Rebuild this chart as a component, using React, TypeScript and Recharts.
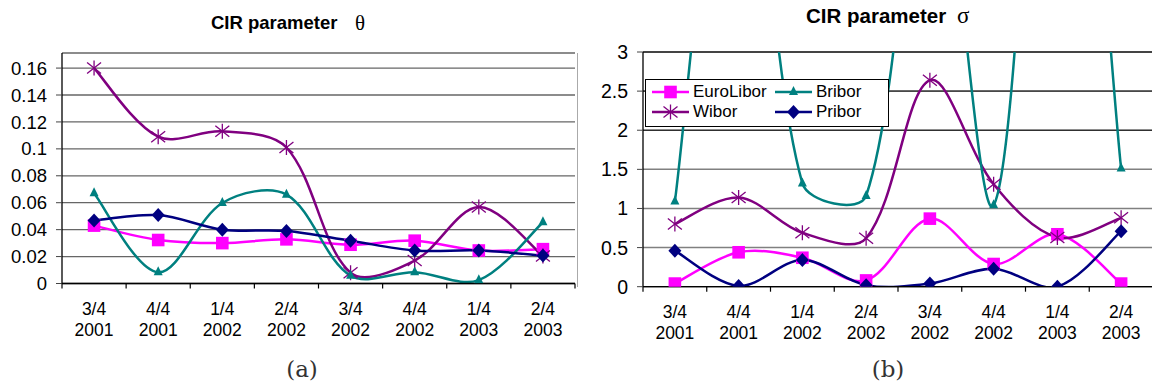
import React from "react";
import { LineChart, Line, XAxis, YAxis, CartesianGrid, ReferenceLine } from "recharts";

// категории по оси X
const quarters = ["3/4", "4/4", "1/4", "2/4", "3/4", "4/4", "1/4", "2/4"];
const years = ["2001", "2001", "2002", "2002", "2002", "2002", "2003", "2003"];

// CIR parameter theta
const thetaEuroLibor = [0.043, 0.0323, 0.03, 0.0328, 0.0288, 0.0318, 0.0245, 0.0255];
const thetaWibor = [0.16, 0.109, 0.113, 0.101, 0.008, 0.017, 0.0568, 0.0205];
const thetaBribor = [0.067, 0.0083, 0.0598, 0.066, 0.0058, 0.0083, 0.0025, 0.0455];
const thetaPribor = [0.0468, 0.0508, 0.04, 0.039, 0.0318, 0.0245, 0.0245, 0.0208];
const thetaTicks = [0, 0.02, 0.04, 0.06, 0.08, 0.1, 0.12, 0.14, 0.16];

// CIR parameter sigma (Bribor уходит за верх графика)
const sigmaEuroLibor = [0.04, 0.44, 0.37, 0.08, 0.87, 0.29, 0.67, 0.04];
const sigmaWibor = [0.8, 1.14, 0.69, 0.62, 2.64, 1.31, 0.63, 0.88];
const sigmaBribor = [1.09, 7, 1.32, 1.16, 6.2, 1.04, 9, 1.51];
const sigmaPribor = [0.46, 0.01, 0.34, 0.02, 0.04, 0.23, 0.0, 0.71];
const sigmaTicks = [0, 0.5, 1, 1.5, 2, 2.5, 3];

const seriesNames = ["EuroLibor", "Wibor", "Bribor", "Pribor"];
const COLORS: Record<string, string> = {
  EuroLibor: "#FF00FF",
  Wibor: "#800080",
  Bribor: "#008080",
  Pribor: "#000080",
};

const buildRows = (e: number[], w: number[], b: number[], p: number[]) =>
  quarters.map((_q, i) => ({
    x: i + 0.5,
    EuroLibor: e[i],
    Wibor: w[i],
    Bribor: b[i],
    Pribor: p[i],
  }));

const thetaData = buildRows(thetaEuroLibor, thetaWibor, thetaBribor, thetaPribor);
const sigmaData = buildRows(sigmaEuroLibor, sigmaWibor, sigmaBribor, sigmaPribor);
const xTicks = Array.from({ length: quarters.length * 2 + 1 }, (_v, k) => k / 2);

const FONT = "'Liberation Sans', Arial, sans-serif";

// сглаживание как в Excel: Безье, плечи зависят от длин соседних отрезков
const excelCurve = (context: any) => {
  let pts: number[][] = [];
  const arm = (dPrev: number, dCur: number) =>
    dPrev === 0 ? 1 / 6 : dCur / (dPrev + dCur) / 3;
  return {
    areaStart() {},
    areaEnd() {},
    lineStart() {
      pts = [];
    },
    point(x: number, y: number) {
      pts.push([+x, +y]);
    },
    lineEnd() {
      const n = pts.length;
      if (!n) return;
      context.moveTo(pts[0][0], pts[0][1]);
      for (let i = 0; i < n - 1; i++) {
        const p0 = pts[Math.max(i - 1, 0)];
        const p1 = pts[i];
        const p2 = pts[i + 1];
        const p3 = pts[Math.min(i + 2, n - 1)];
        const d01 = Math.hypot(p1[0] - p0[0], p1[1] - p0[1]);
        const d12 = Math.hypot(p2[0] - p1[0], p2[1] - p1[1]);
        const d23 = Math.hypot(p3[0] - p2[0], p3[1] - p2[1]);
        const a = arm(d01, d12);
        const b = arm(d23, d12);
        context.bezierCurveTo(
          p1[0] + (p2[0] - p0[0]) * a,
          p1[1] + (p2[1] - p0[1]) * a,
          p2[0] - (p3[0] - p1[0]) * b,
          p2[1] - (p3[1] - p1[1]) * b,
          p2[0],
          p2[1]
        );
      }
    },
  };
};

const Marker = ({ name, cx, cy }: { name: string; cx: number; cy: number }) => {
  const c = COLORS[name];
  if (name === "EuroLibor")
    return <rect x={cx - 6.3} y={cy - 6.3} width={12.6} height={12.6} fill={c} />;
  if (name === "Pribor")
    return (
      <polygon
        points={`${cx},${cy - 7} ${cx + 6.5},${cy} ${cx},${cy + 7} ${cx - 6.5},${cy}`}
        fill={c}
      />
    );
  if (name === "Bribor")
    return (
      <polygon
        points={`${cx},${cy - 6} ${cx + 4.5},${cy + 3} ${cx - 4.5},${cy + 3}`}
        fill={c}
      />
    );
  return (
    <g stroke={c} strokeWidth={1.3}>
      <line x1={cx} y1={cy - 7.5} x2={cx} y2={cy + 7.5} />
      <line x1={cx - 7} y1={cy - 5.5} x2={cx + 7} y2={cy + 5.5} />
      <line x1={cx - 7} y1={cy + 5.5} x2={cx + 7} y2={cy - 5.5} />
    </g>
  );
};

const dotFor = (name: string) => (props: any) => {
  if (props.cx == null || props.cy == null) return <g key={`${name}-${props.index}`} />;
  return (
    <g key={`${name}-${props.index}`}>
      <Marker name={name} cx={props.cx} cy={props.cy} />
    </g>
  );
};

const QuarterTick = (props: any) => {
  const { x, y, payload } = props;
  const v = payload.value;
  if (Number.isInteger(v))
    return <line x1={x} y1={y} x2={x} y2={y + 5} stroke="#000" strokeWidth={1.2} />;
  const i = Math.floor(v);
  return (
    <text x={x} y={y} textAnchor="middle" fontSize={17.5} fontFamily={FONT} fill="#000">
      <tspan x={x} dy={31}>
        {quarters[i]}
      </tspan>
      <tspan x={x} dy={21.5}>
        {years[i]}
      </tspan>
    </text>
  );
};

const renderLines = () =>
  seriesNames.map((name) => (
    <Line
      key={name}
      dataKey={name}
      type={excelCurve as any}
      stroke={COLORS[name]}
      strokeWidth={2.5}
      dot={dotFor(name)}
      activeDot={false}
      isAnimationActive={false}
    />
  ));

const ThetaChart = () => (
  <LineChart
    width={576}
    height={390}
    data={thetaData}
    margin={{ top: 53, right: 1, bottom: 0, left: 0 }}
  >
    <CartesianGrid vertical={false} stroke="#666" strokeWidth={1.3} />
    <XAxis
      xAxisId="top"
      orientation="top"
      type="number"
      dataKey="x"
      domain={[0, 8]}
      height={0}
      tick={false}
      tickLine={false}
      axisLine={{ stroke: "#555", strokeWidth: 1.3 }}
    />
    <YAxis
      yAxisId="r"
      orientation="right"
      width={0}
      tick={false}
      tickLine={false}
      axisLine={{ stroke: "#555", strokeWidth: 1.3 }}
    />
    <XAxis
      type="number"
      dataKey="x"
      domain={[0, 8]}
      ticks={xTicks}
      interval={0}
      height={106.5}
      tickSize={0}
      tickMargin={0}
      tickLine={false}
      tick={<QuarterTick />}
      axisLine={{ stroke: "#000", strokeWidth: 1.3 }}
    />
    <YAxis
      type="number"
      domain={[0, 0.1712]}
      ticks={thetaTicks}
      interval={0}
      width={62}
      tickSize={6}
      tickMargin={9}
      allowDataOverflow
      tickFormatter={(v: number) => String(v)}
      tick={{ fontSize: 18.5, fontFamily: FONT, fill: "#000" }}
      tickLine={{ stroke: "#444" }}
      axisLine={{ stroke: "#000", strokeWidth: 1.3 }}
    />
    {renderLines()}
  </LineChart>
);

const SigmaChart = () => (
  <LineChart
    width={580}
    height={390}
    data={sigmaData}
    margin={{ top: 52, right: 3, bottom: 0, left: 0 }}
  >
    <CartesianGrid vertical={false} stroke="#808080" strokeWidth={1.5} />
    <ReferenceLine y={2.5} stroke="#111" strokeWidth={1} />
    <ReferenceLine y={2} stroke="#111" strokeWidth={1} />
    <ReferenceLine y={3} stroke="#444" strokeWidth={2} />
    <XAxis
      type="number"
      dataKey="x"
      domain={[0, 8]}
      ticks={xTicks}
      interval={0}
      height={103.3}
      tickSize={0}
      tickMargin={0}
      tickLine={false}
      tick={<QuarterTick />}
      axisLine={{ stroke: "#000", strokeWidth: 1.3 }}
    />
    <YAxis
      type="number"
      domain={[0, 3]}
      ticks={sigmaTicks}
      interval={0}
      width={67}
      tickSize={6}
      tickMargin={9}
      allowDataOverflow
      tickFormatter={(v: number) => String(v)}
      tick={{ fontSize: 19.5, fontFamily: FONT, fill: "#000" }}
      tickLine={{ stroke: "#444" }}
      axisLine={{ stroke: "#000", strokeWidth: 1.3 }}
    />
    {renderLines()}
  </LineChart>
);

const legendRows = [
  ["EuroLibor", "Bribor"],
  ["Wibor", "Pribor"],
];

const LegendBox = () => (
  <div
    style={{
      position: "absolute",
      left: 645,
      top: 79,
      width: 242,
      height: 46,
      border: "1px solid #000",
      background: "#fff",
      fontFamily: FONT,
      fontSize: 17,
    }}
  >
    {legendRows.map((row, r) =>
      row.map((name, c) => (
        <div
          key={name}
          style={{
            position: "absolute",
            left: c === 0 ? 6 : 129,
            top: r === 0 ? 2 : 22,
            height: 20,
            display: "flex",
            alignItems: "center",
            whiteSpace: "nowrap",
          }}
        >
          <svg width={37} height={20}>
            <line x1={0} y1={10} x2={37} y2={10} stroke={COLORS[name]} strokeWidth={2.5} />
            <Marker name={name} cx={18.5} cy={10} />
          </svg>
          <span style={{ marginLeft: 4 }}>{name}</span>
        </div>
      ))
    )}
  </div>
);

const App: React.FC = () => (
  <div
    style={{
      position: "fixed",
      left: 0,
      top: 0,
      width: 1152,
      height: 390,
      overflow: "hidden",
      background: "#fff",
    }}
  >
    <div style={{ position: "absolute", left: 0, top: 0 }}>
      <ThetaChart />
    </div>
    <div style={{ position: "absolute", left: 576, top: 0 }}>
      <SigmaChart />
    </div>
    <div
      style={{
        position: "absolute",
        left: 577,
        top: 53,
        width: 1,
        height: 234,
        background: "#aaa",
      }}
    />
    <LegendBox />
    <svg
      width={1152}
      height={390}
      style={{ position: "absolute", left: 0, top: 0, pointerEvents: "none" }}
    >
      <text x={211} y={29.3} fontFamily={FONT} fontWeight="bold" fontSize={18.5} fill="#000">
        CIR parameter
      </text>
      <text x={355} y={30} fontFamily="'Liberation Serif', serif" fontSize={21} fill="#000">
        θ
      </text>
      <text x={806} y={22.7} fontFamily={FONT} fontWeight="bold" fontSize={20.5} fill="#000">
        CIR parameter
      </text>
      <text x={957} y={22.7} fontFamily="'Liberation Serif', serif" fontSize={23} fill="#000">
        σ
      </text>
      <text x={302} y={377} textAnchor="middle" fontFamily="'DejaVu Serif', serif" fontSize={23} fill="#333">
        (a)
      </text>
      <text x={888} y={377} textAnchor="middle" fontFamily="'DejaVu Serif', serif" fontSize={23} fill="#333">
        (b)
      </text>
    </svg>
  </div>
);

export default App;
